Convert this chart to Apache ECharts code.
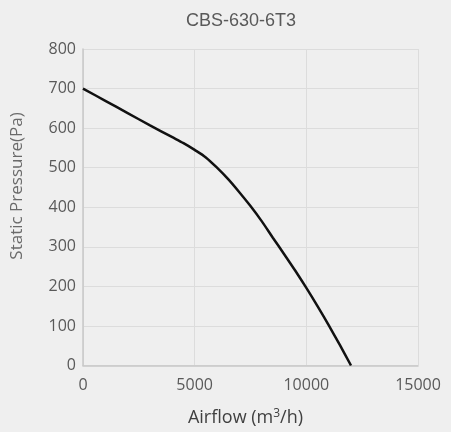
<!DOCTYPE html>
<html>
<head>
<meta charset="utf-8">
<script src="https://cdn.jsdelivr.net/npm/echarts@6/dist/echarts.min.js"></script>
<style>
  html, body { margin: 0; padding: 0; background: #efefef; }
  #chart { width: 451px; height: 432px; }
</style>
</head>
<body>
<div id="chart"></div>
<script>
// Fan curve data
var airflow = [0, 1000, 2000, 3000, 4000, 4500, 5000, 5500, 6000, 6500, 7000, 7500, 8000, 8500, 9000, 9500, 10000, 10500, 11000, 11500, 12000];
var pressure = [700, 669, 638, 607, 577, 562, 545, 526, 500, 471, 438, 403, 365, 323, 282, 240, 196, 150, 102, 52, 0];
var xTicks = [0, 5000, 10000, 15000];
var yTicks = [0, 100, 200, 300, 400, 500, 600, 700, 800];

var chart = echarts.init(document.getElementById('chart'));

var points = [];
for (var i = 0; i < airflow.length; i++) {
    points.push([airflow[i], pressure[i]]);
}

var option = {
    backgroundColor: '#efefef',
    animation: false,
    title: {
        text: 'CBS-630-6T3',
        left: 236,
        top: 7,
        textAlign: 'center',
        textStyle: {
            color: '#595959',
            fontSize: 18,
            fontWeight: 'normal',
            fontFamily: 'Liberation Sans'
        }
    },
    grid: {
        left: 83,
        right: 33,
        top: 49,
        bottom: 64
    },
    graphic: [{
        type: 'text',
        x: 17,
        y: 186,
        rotation: Math.PI / 2,
        style: {
            text: 'Static Pressure(Pa)',
            fill: '#6a6a6a',
            font: '17px "Open Sans"',
            align: 'center',
            verticalAlign: 'middle'
        }
    }],
    xAxis: {
        type: 'value',
        min: xTicks[0],
        max: xTicks[xTicks.length - 1],
        interval: 5000,
        name: '{n|Airflow (m}{s|3}{n|/h)}',
        nameLocation: 'middle',
        nameGap: 42,
        nameTextStyle: {
            padding: [0, 10, 0, 0],
            rich: {
                n: { fontSize: 18, color: '#404040', fontFamily: 'Open Sans' },
                s: { fontSize: 12, color: '#404040', fontFamily: 'Open Sans', verticalAlign: 'top', padding: [0, 0, 9, 0] }
            }
        },
        axisLine: { show: true, lineStyle: { color: '#c8c8c8', width: 1.5 } },
        axisTick: { show: false },
        axisLabel: {
            color: '#595959', fontSize: 16, fontFamily: 'Open Sans', margin: 12,
            formatter: function (v) { return String(v); }
        },
        splitLine: { show: true, lineStyle: { color: '#dcdcdc', width: 1 } }
    },
    yAxis: {
        type: 'value',
        min: yTicks[0],
        max: yTicks[yTicks.length - 1],
        interval: 100,
        axisLine: { show: true, lineStyle: { color: '#c8c8c8', width: 1.5 } },
        axisTick: { show: false },
        axisLabel: { color: '#595959', fontSize: 16, fontFamily: 'Open Sans', margin: 7 },
        splitLine: { show: true, lineStyle: { color: '#dcdcdc', width: 1 } }
    },
    series: [{
        type: 'line',
        data: points,
        smooth: 0.3,
        showSymbol: false,
        lineStyle: { color: '#111111', width: 2.5 }
    }]
};

chart.setOption(option);
</script>
</body>
</html>
